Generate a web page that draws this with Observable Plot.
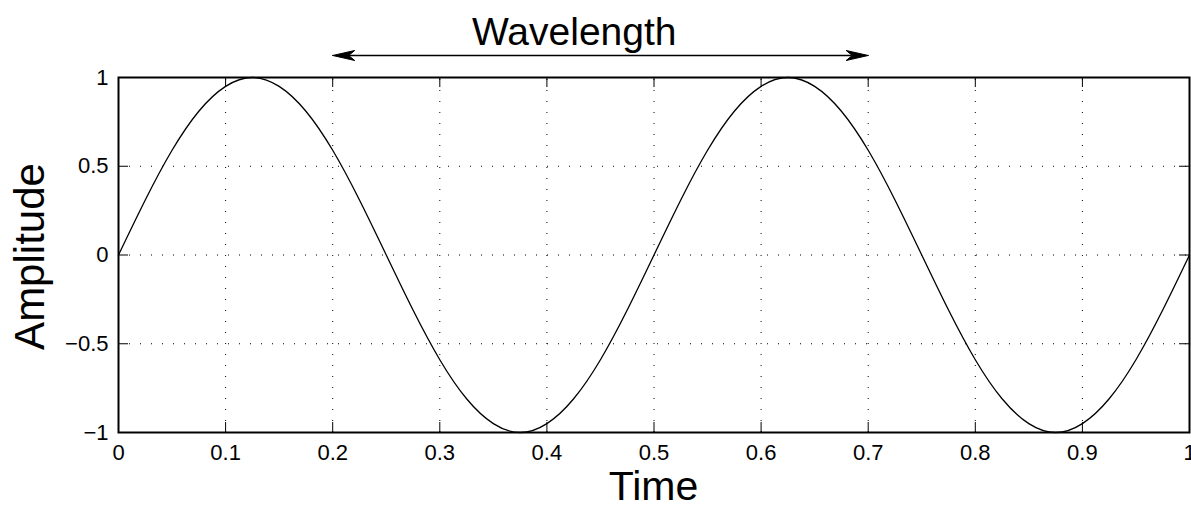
<!DOCTYPE html>
<html>
<head>
<meta charset="utf-8">
<script src="https://cdn.jsdelivr.net/npm/d3@7"></script>
<script src="https://cdn.jsdelivr.net/npm/@observablehq/plot@0.6"></script>
<style>
  html, body { margin: 0; padding: 0; background: #fff; }
  svg { display: block; }
</style>
</head>
<body>
<div id="chart"></div>
<script>
const timeValues = [0,0.025,0.05,0.075,0.1,0.125,0.15,0.175,0.2,0.225,0.25,0.275,0.3,0.325,0.35,0.375,0.4,0.425,0.45,0.475,0.5,
  0.525,0.55,0.575,0.6,0.625,0.65,0.675,0.7,0.725,0.75,0.775,0.8,0.825,0.85,0.875,0.9,0.925,0.95,0.975,1];
const amplitudeValues = [0,0.31,0.59,0.81,0.95,1,0.95,0.81,0.59,0.31,0,-0.31,-0.59,-0.81,-0.95,-1,-0.95,-0.81,-0.59,-0.31,0,
  0.31,0.59,0.81,0.95,1,0.95,0.81,0.59,0.31,0,-0.31,-0.59,-0.81,-0.95,-1,-0.95,-0.81,-0.59,-0.31,0];

const xTicks = [0,0.1,0.2,0.3,0.4,0.5,0.6,0.7,0.8,0.9,1];
const xTickLabels = ["0","0.1","0.2","0.3","0.4","0.5","0.6","0.7","0.8","0.9","1"];
const yTicks = [-1,-0.5,0,0.5,1];
const yTickLabels = ["\u22121","\u22120.5","0","0.5","1"];

// Wavelength annotation
const wavelengthStart = 0.2;
const wavelengthEnd = 0.7;
const wavelengthLevel = 1.124;
const titleText = "Wavelength";
const titleAt = 0.426;
const xLabel = "Time";
const yLabel = "Amplitude";

const W = 1191, H = 506;
const mTop = 77, mBottom = 74, mLeft = 118, mRight = 2;
const innerW = W - mLeft - mRight, innerH = H - mTop - mBottom;
const xPerPx = 1 / innerW, yPerPx = 2 / innerH;
const tickLenX = 10 * yPerPx; // vertical ticks on x axis, in y units
const tickLenY = 10 * xPerPx; // horizontal ticks on y axis, in x units
const tickFont = 22;

const curve = timeValues.map((t, i) => ({t, a: amplitudeValues[i]}));

// arrowheads (filled, notched) built from the annotation endpoints
const headLen = 22 * xPerPx, headHalf = 5 * yPerPx, notch = 16 * xPerPx;
function head(tip, dir, id) {
  return [
    {id, x: tip, y: wavelengthLevel},
    {id, x: tip - dir * headLen, y: wavelengthLevel + headHalf},
    {id, x: tip - dir * notch, y: wavelengthLevel},
    {id, x: tip - dir * headLen, y: wavelengthLevel - headHalf},
    {id, x: tip, y: wavelengthLevel}
  ];
}
const heads = [...head(wavelengthStart, -1, "L"), ...head(wavelengthEnd, 1, "R")];

const font = "'Liberation Sans', Arial, Helvetica, sans-serif";
const gridY = yTicks.filter(d => d > -1 && d < 1);
const gridX = xTicks.filter(d => d > 0 && d < 1);

const chart = Plot.plot({
  width: W, height: H,
  marginTop: mTop, marginBottom: mBottom, marginLeft: mLeft, marginRight: mRight,
  style: {fontFamily: font, fontSize: tickFont + "px", background: "#fff", color: "#000", overflow: "visible"},
  x: {domain: [0, 1]},
  y: {domain: [-1, 1]},
  marks: [
    Plot.ruleX(gridX, {x: d => d, y1: -1, y2: 1, stroke: "#000", strokeWidth: 1, strokeDasharray: "1,10"}),
    Plot.ruleY(gridY, {y: d => d, x1: 0, x2: 1, stroke: "#000", strokeWidth: 1, strokeDasharray: "1,10"}),
    // inward ticks
    Plot.ruleX(xTicks, {x: d => d, y1: -1, y2: -1 + tickLenX, stroke: "#000"}),
    Plot.ruleX(xTicks, {x: d => d, y1: 1, y2: 1 - tickLenX, stroke: "#000"}),
    Plot.ruleY(yTicks, {y: d => d, x1: 0, x2: tickLenY, stroke: "#000"}),
    Plot.ruleY(yTicks, {y: d => d, x1: 1, x2: 1 - tickLenY, stroke: "#000"}),
    Plot.axisX(xTicks, {anchor: "bottom", tickSize: 0, tickPadding: 12, fontSize: tickFont,
      tickFormat: (d) => xTickLabels[xTicks.indexOf(d)], label: null}),
    Plot.axisY(yTicks, {anchor: "left", tickSize: 0, tickPadding: 10, fontSize: tickFont,
      tickFormat: (d) => yTickLabels[yTicks.indexOf(d)], label: null}),
    Plot.line(curve, {x: "t", y: "a", stroke: "#000", strokeWidth: 1.3, curve: "natural"}),
    Plot.frame({stroke: "#000", strokeWidth: 2}),
    // wavelength arrow
    Plot.ruleY([wavelengthLevel], {y: d => d, x1: wavelengthStart + notch, x2: wavelengthEnd - notch, stroke: "#000", strokeWidth: 1.3}),
    Plot.line(heads, {x: "x", y: "y", z: "id", fill: "#000", stroke: "#000", strokeWidth: 1, curve: "linear"})
  ]
});

const svg = d3.select(chart);
// force the tick-label size on every text Plot drew
svg.selectAll("text").style("font-size", tickFont + "px");

svg.append("text")
  .attr("x", mLeft + titleAt * innerW)
  .attr("y", 45)
  .attr("text-anchor", "middle")
  .style("font-family", font)
  .style("font-size", "39px")
  .attr("fill", "#000")
  .text(titleText);
svg.append("text")
  .attr("x", mLeft + innerW / 2)
  .attr("y", 500)
  .attr("text-anchor", "middle")
  .style("font-family", font)
  .style("font-size", "41px")
  .attr("fill", "#000")
  .text(xLabel);
svg.append("text")
  .attr("transform", `translate(44,${mTop + innerH / 2 + 2}) rotate(-90)`)
  .attr("text-anchor", "middle")
  .style("font-family", font)
  .style("font-size", "42px")
  .attr("fill", "#000")
  .text(yLabel);

document.getElementById("chart").appendChild(chart);
</script>
</body>
</html>
